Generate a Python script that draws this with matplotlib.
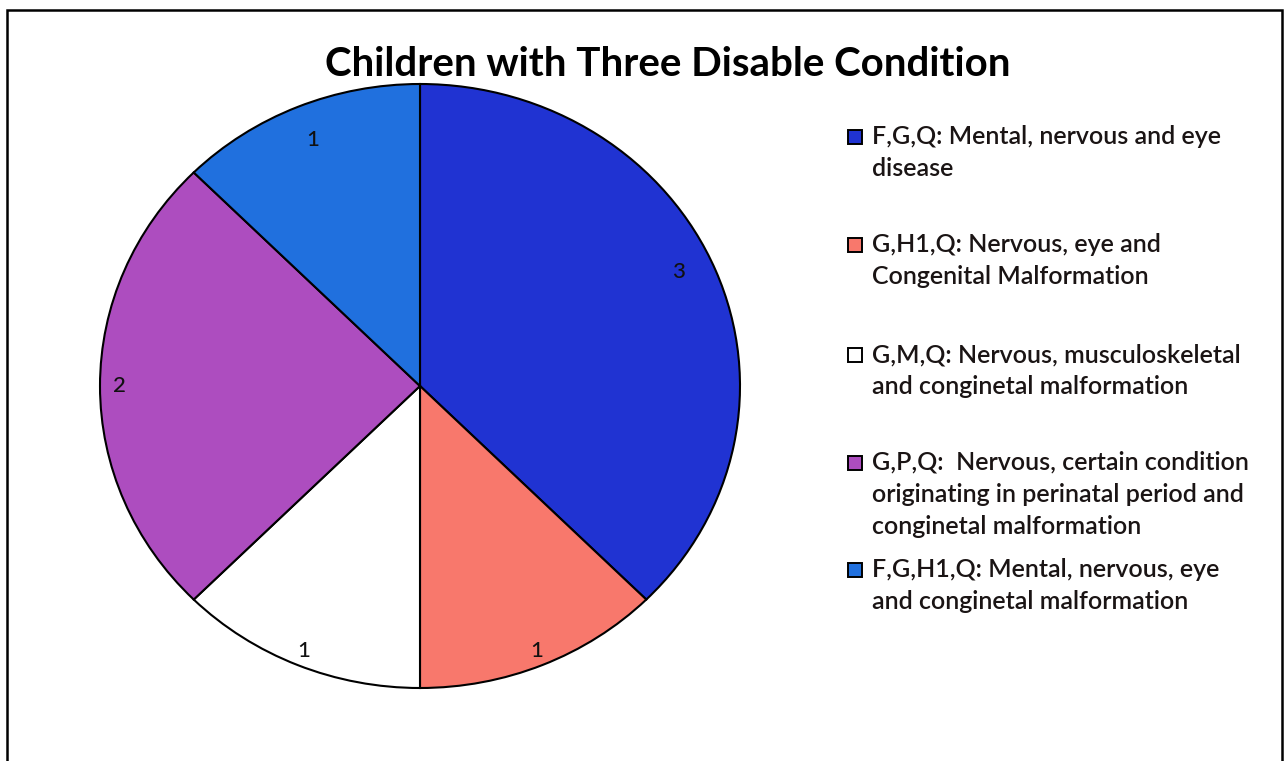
import matplotlib.pyplot as plt
from matplotlib.patches import Rectangle
import numpy as np

plt.rcParams['font.family'] = ['Lato', 'DejaVu Sans']

# children counts per combination of disabling conditions
codes = ["F,G,Q", "G,H1,Q", "G,M,Q", "G,P,Q", "F,G,H1,Q"]
counts = [3, 1, 1, 2, 1]
legend_labels = [
    "F,G,Q: Mental, nervous and eye\ndisease",
    "G,H1,Q: Nervous, eye and\nCongenital Malformation",
    "G,M,Q: Nervous, musculoskeletal\nand conginetal malformation",
    "G,P,Q:  Nervous, certain condition\noriginating in perinatal period and\nconginetal malformation",
    "F,G,H1,Q: Mental, nervous, eye\nand conginetal malformation",
]
colors = ["#2033d2", "#f8786c", "#ffffff", "#ad4dbf", "#2070de"]

W, H = 1288, 761
fig = plt.figure(figsize=(W / 100, H / 100), dpi=100)

# outer frame of the chart area
fig.patches.append(Rectangle((7 / W, -0.05), (1282 - 7) / W, (H - 10) / H + 0.05,
                             transform=fig.transFigure, fill=False,
                             edgecolor="black", linewidth=1.8))

fig.text(668 / W, 1 - 64 / H, "Children with Three Disable Condition",
         ha="center", va="center", fontsize=29, fontweight="bold")

ax = fig.add_axes([100 / W, (H - 688) / H, 640 / W, 604 / H])
wedges, _ = ax.pie(counts, colors=colors, startangle=90, counterclock=False,
                   wedgeprops=dict(edgecolor="black", linewidth=1.5))
ax.set_aspect("auto")
ax.set_xlim(-1, 1)
ax.set_ylim(-1, 1)

# value labels placed just inside the rim of each slice
label_r = [0.89, 0.95, 0.95, 0.94, 0.88]
label_shift = [2.5, 0, 0, 0, 0]
for w, v, r, s in zip(wedges, counts, label_r, label_shift):
    mid = np.deg2rad((w.theta1 + w.theta2) / 2 + s)
    ax.text(r * np.cos(mid), r * np.sin(mid), str(v), ha="center", va="center",
            fontsize=16, fontweight="medium", color="#111111")

# legend entries, evenly pitched down the right side
tops = [137, 245, 355, 463, 570]
for lab, col, y in zip(legend_labels, colors, tops):
    fig.patches.append(Rectangle((848 / W, 1 - (y + 7) / H), 14 / W, 14 / H,
                                 transform=fig.transFigure, facecolor=col,
                                 edgecolor="black", linewidth=1.4))
    fig.text(872 / W, 1 - (y - 12) / H, lab, ha="left", va="top",
             fontsize=18, fontweight="semibold", color="#1a1414",
             linespacing=1.47)

fig.savefig("out.png", dpi=100, facecolor="white")
